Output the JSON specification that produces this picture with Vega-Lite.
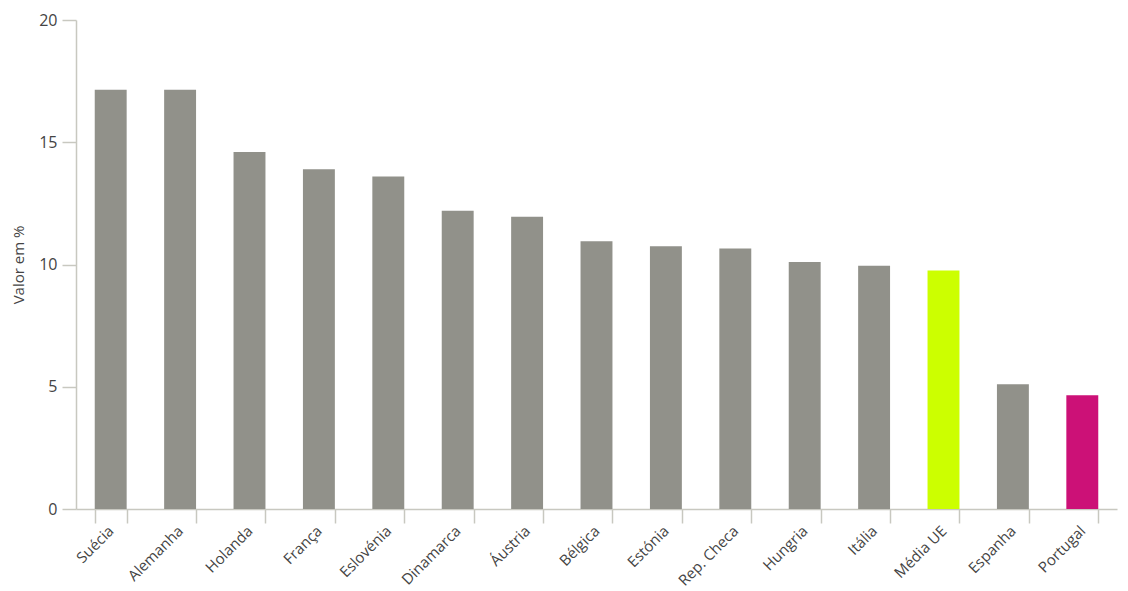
{
  "$schema": "https://vega.github.io/schema/vega-lite/v6.json",
  "width": 1041,
  "height": 489,
  "autosize": {"type": "none"},
  "padding": {"left": 76, "top": 20, "right": 11, "bottom": 82},
  "background": "white",
  "config": {
    "view": {"stroke": null},
    "font": "Open Sans"
  },
  "data": {
    "values": [
      {"pais": "Suécia", "valor": 17.15, "grupo": "outro"},
      {"pais": "Alemanha", "valor": 17.15, "grupo": "outro"},
      {"pais": "Holanda", "valor": 14.6, "grupo": "outro"},
      {"pais": "França", "valor": 13.9, "grupo": "outro"},
      {"pais": "Eslovénia", "valor": 13.6, "grupo": "outro"},
      {"pais": "Dinamarca", "valor": 12.2, "grupo": "outro"},
      {"pais": "Áustria", "valor": 11.95, "grupo": "outro"},
      {"pais": "Bélgica", "valor": 10.95, "grupo": "outro"},
      {"pais": "Estónia", "valor": 10.75, "grupo": "outro"},
      {"pais": "Rep. Checa", "valor": 10.65, "grupo": "outro"},
      {"pais": "Hungria", "valor": 10.1, "grupo": "outro"},
      {"pais": "Itália", "valor": 9.95, "grupo": "outro"},
      {"pais": "Média UE", "valor": 9.75, "grupo": "ue"},
      {"pais": "Espanha", "valor": 5.1, "grupo": "outro"},
      {"pais": "Portugal", "valor": 4.65, "grupo": "pt"}
    ]
  },
  "mark": {"type": "bar"},
  "encoding": {
    "x": {
      "field": "pais",
      "type": "nominal",
      "sort": null,
      "scale": {"paddingInner": 0.54, "paddingOuter": 0.27},
      "axis": {
        "title": null,
        "labelAngle": -45,
        "labelAlign": "right",
        "labelBaseline": "middle",
        "labelFontSize": 15,
        "labelColor": "#444444",
        "labelPadding": 5,
        "tickBand": "extent",
        "tickSize": 14,
        "tickColor": "#c8c8c0",
        "domainColor": "#c8c8c0",
        "tickWidth": 1.5,
        "domainWidth": 1.5
      }
    },
    "y": {
      "field": "valor",
      "type": "quantitative",
      "scale": {"domain": [0, 20], "nice": false},
      "axis": {
        "title": "Valor em %",
        "titleFontSize": 15,
        "titleFontWeight": "normal",
        "titleColor": "#444444",
        "titlePadding": 12,
        "values": [0, 5, 10, 15, 20],
        "grid": false,
        "labelFontSize": 16,
        "labelColor": "#444444",
        "labelPadding": 5,
        "tickSize": 14,
        "tickColor": "#c8c8c0",
        "domainColor": "#c8c8c0",
        "tickWidth": 1.5,
        "domainWidth": 1.5
      }
    },
    "color": {
      "field": "grupo",
      "type": "nominal",
      "scale": {"domain": ["outro", "ue", "pt"], "range": ["#91918a", "#ccff00", "#cc1177"]},
      "legend": null
    }
  }
}
